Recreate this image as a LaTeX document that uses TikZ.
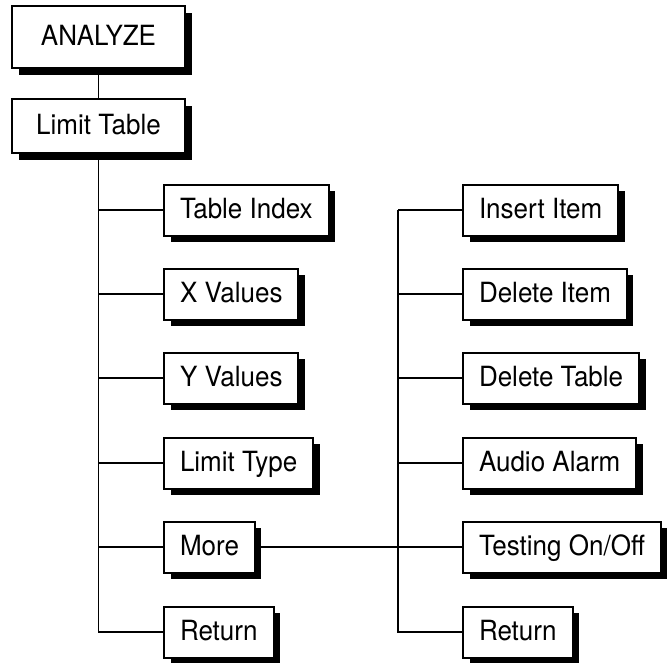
\documentclass[tikz,border=0pt]{standalone}
\usepackage{fontspec}
\setmainfont{TeX Gyre Heros}
\usepackage{tikz}
\usetikzlibrary{positioning,shadows}
\newcommand{\lbl}[1]{\scalebox{1}[1.07]{#1}}
\tikzset{
  mbox/.style={draw=black,line width=2pt,fill=white,inner xsep=16pt,inner ysep=0pt,
    minimum height=51pt,text height=21pt,text depth=4pt,font=\fontsize{26}{30}\selectfont,
    drop shadow={shadow xshift=6.5pt,shadow yshift=-6.5pt,fill=black,opacity=1}},
  topbox/.style={mbox,minimum width=173pt},
  link/.style={line width=1.8pt,black}
}
\begin{document}
\begin{tikzpicture}[x=1pt,y=-1pt]
\useasboundingbox (0,0) rectangle (667,662);
% header boxes
\node[topbox,minimum height=62pt] (analyze) at (98.5,37) {\lbl{ANALYZE}};
\node[topbox,minimum height=54pt] (limtab) at (98.5,126) {\lbl{Limit Table}};
% left column
\node[mbox,anchor=west] (tidx) at (163,210) {\lbl{Table Index}};
\node[mbox,anchor=west] (xval) at (163,294) {\lbl{X Values}};
\node[mbox,anchor=west] (yval) at (163,378) {\lbl{Y Values}};
\node[mbox,anchor=west] (ltype) at (163,463) {\lbl{Limit Type}};
\node[mbox,anchor=west] (more) at (163,547) {\lbl{More}};
\node[mbox,anchor=west] (retA) at (163,632) {\lbl{Return}};
% right column
\node[mbox,anchor=west] (ins) at (462,210) {\lbl{Insert Item}};
\node[mbox,anchor=west] (delit) at (462,294) {\lbl{Delete Item}};
\node[mbox,anchor=west] (deltab) at (462,378) {\lbl{Delete Table}};
\node[mbox,anchor=west] (alarm) at (462,463) {\lbl{Audio Alarm}};
\node[mbox,anchor=west] (testing) at (462,547) {\lbl{Testing On/Off}};
\node[mbox,anchor=west] (retB) at (462,632) {\lbl{Return}};
\coordinate (rtrunk) at (398,0);
% connectors
\draw[link] (analyze.south) -- (limtab.north);
\draw[link] (limtab.south) |- (retA.west);
\foreach \n in {tidx,xval,yval,ltype,more}
  \draw[link] (limtab.south |- \n.west) -- (\n.west);
\draw[link] (rtrunk |- ins.west) |- (retB.west);
\foreach \n in {ins,delit,deltab,alarm}
  \draw[link] (rtrunk |- \n.west) -- (\n.west);
\draw[link] (more.east) -- (testing.west);
\end{tikzpicture}
\end{document}
